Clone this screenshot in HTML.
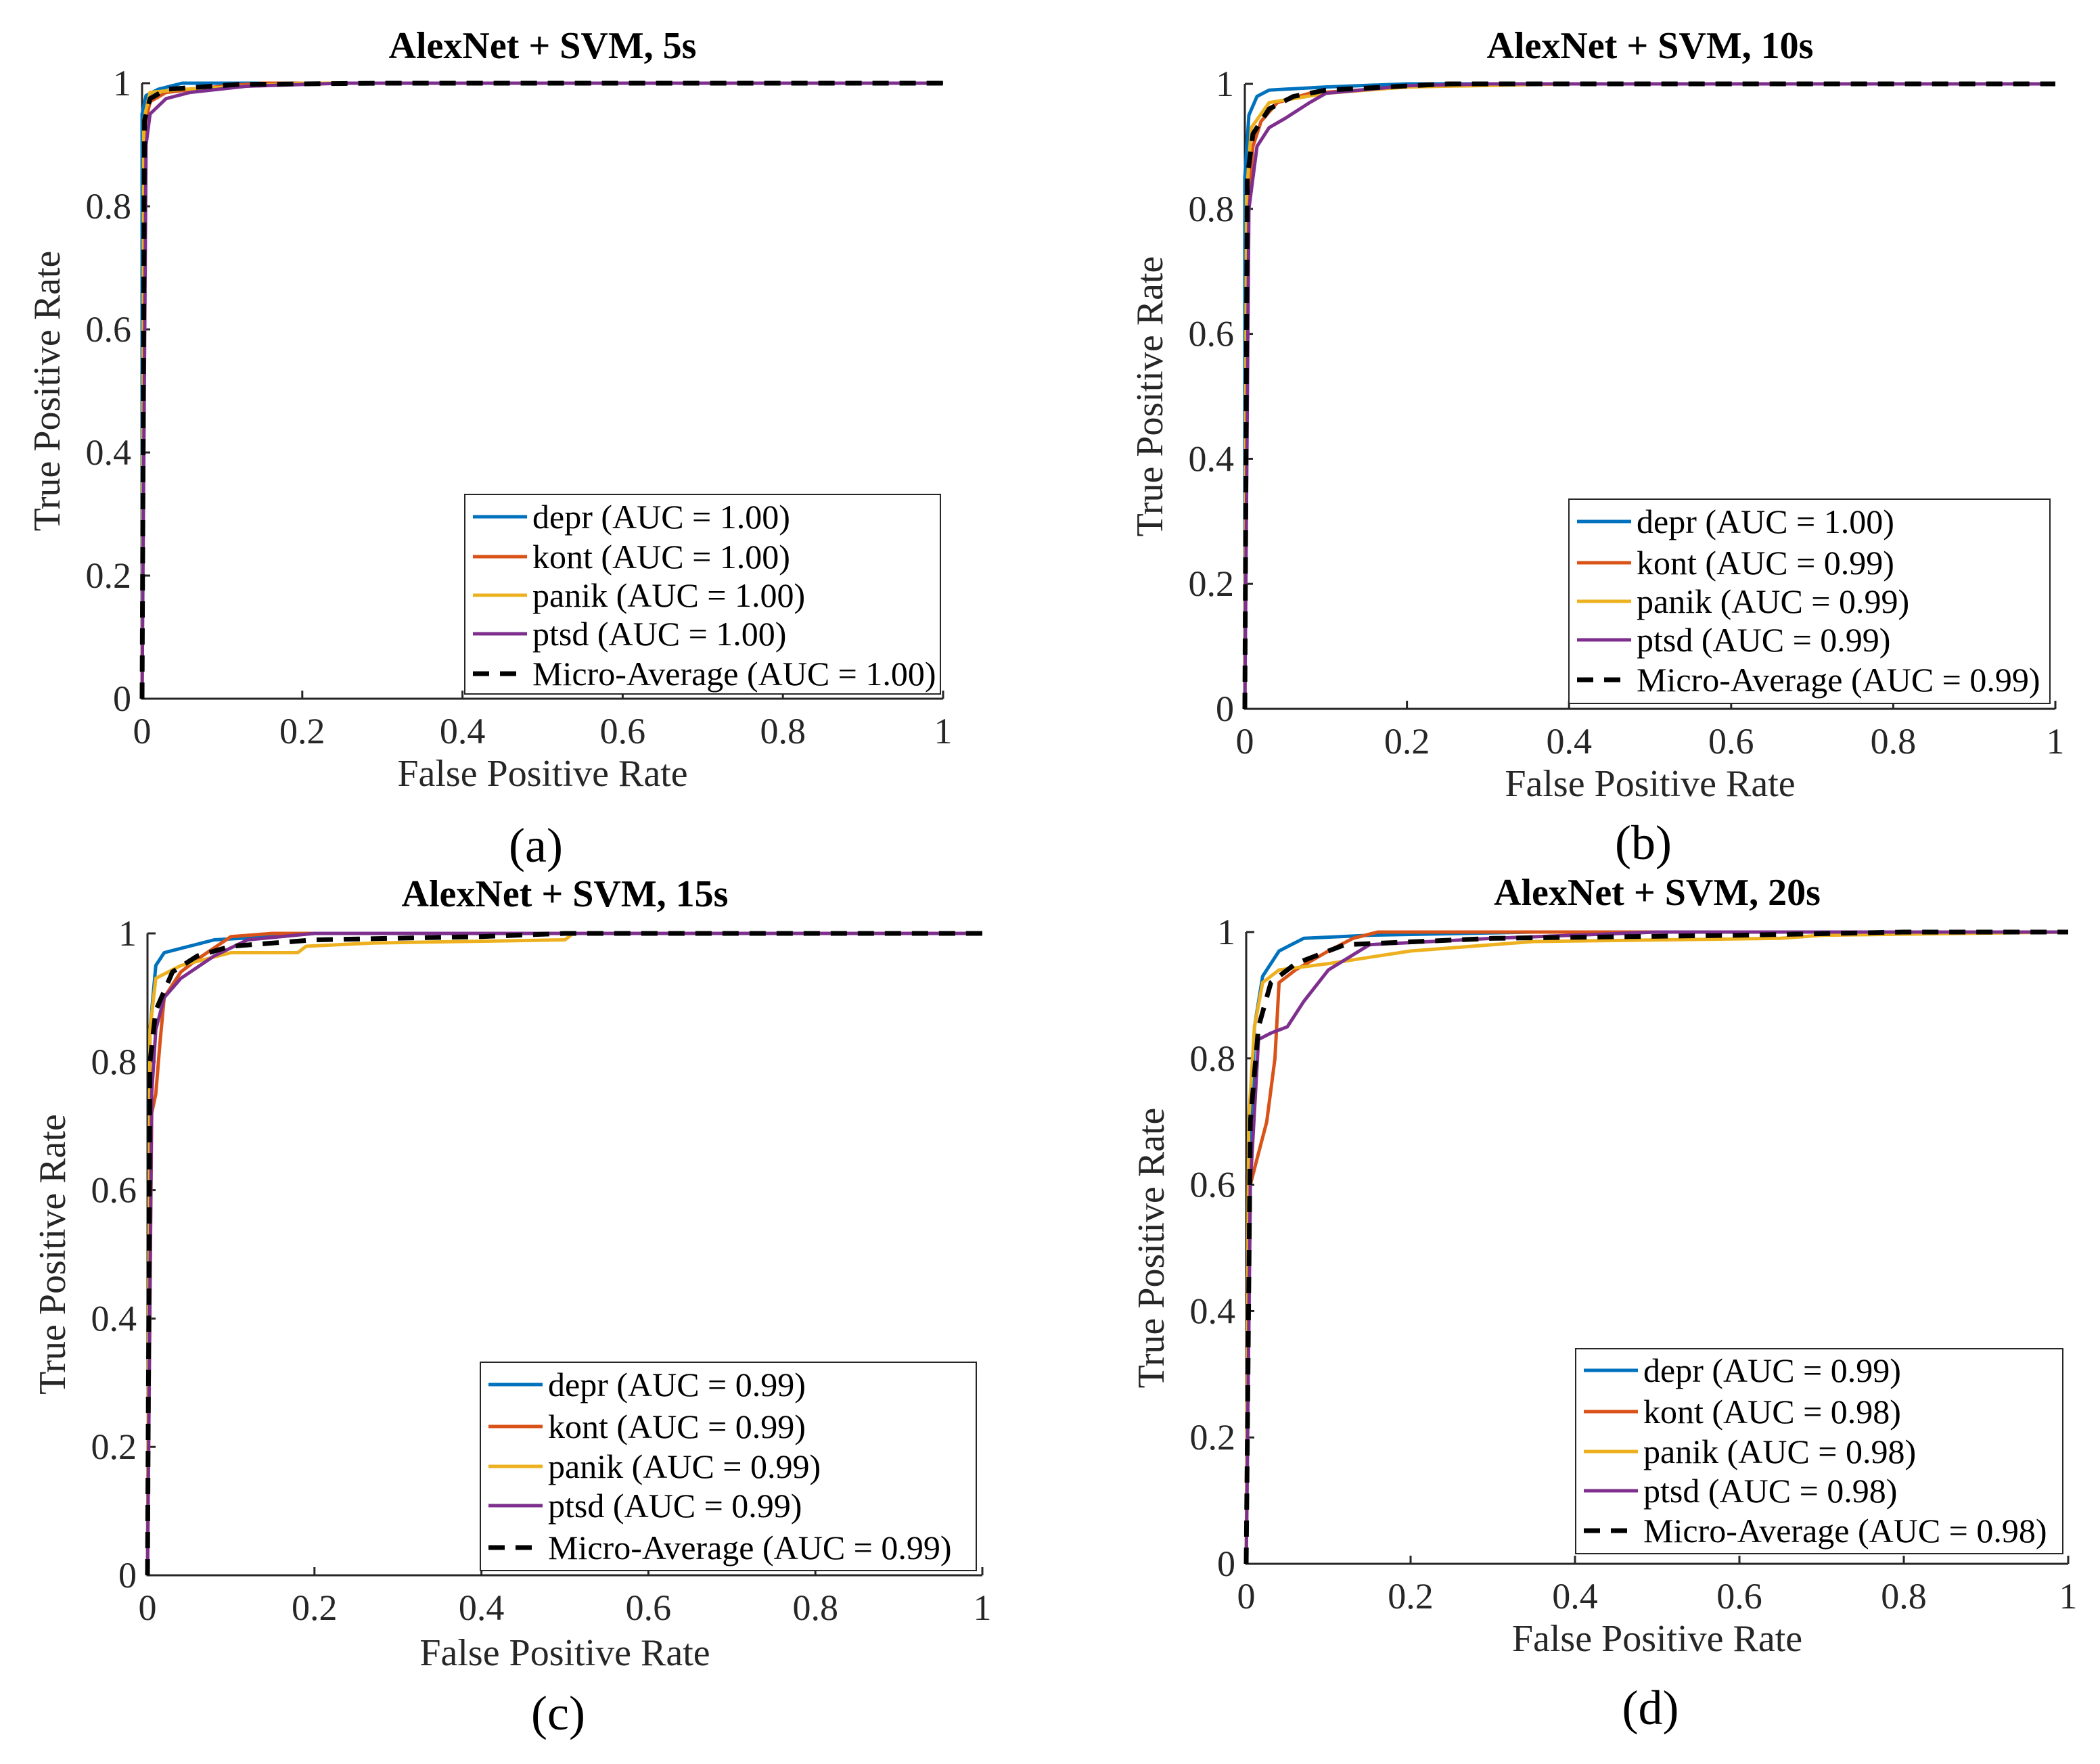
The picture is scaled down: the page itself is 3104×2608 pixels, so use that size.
<!DOCTYPE html>
<html><head><meta charset="utf-8">
<style>
html,body{margin:0;padding:0;background:#fff;}
svg{display:block;}
text{font-family:"Liberation Serif","Times New Roman",serif;}
</style></head>
<body>
<svg id="fig" width="3104" height="2608" viewBox="0 0 3104 2608" xmlns="http://www.w3.org/2000/svg"></svg>
<script>
const seriesNames = ["depr","kont","panik","ptsd","Micro-Average"];
const seriesColors = ["#0072BD","#D95319","#EDB120","#7E2F8E","#000000"];
const xTickLabels = ["0","0.2","0.4","0.6","0.8","1"];
const yTickLabels = ["0","0.2","0.4","0.6","0.8","1"];
const tickValues = [0,0.2,0.4,0.6,0.8,1];

const titlesArr = ["AlexNet + SVM, 5s","AlexNet + SVM, 10s","AlexNet + SVM, 15s","AlexNet + SVM, 20s"];
const panelLetters = ["(a)","(b)","(c)","(d)"];
const aucA = ["1.00","1.00","1.00","1.00","1.00"];
const aucB = ["1.00","0.99","0.99","0.99","0.99"];
const aucC = ["0.99","0.99","0.99","0.99","0.99"];
const aucD = ["0.99","0.98","0.98","0.98","0.98"];

const rocA = [
 [[0,0],[0,0.95],[0.005,0.98],[0.02,0.99],[0.05,1],[1,1]],
 [[0,0],[0.003,0.93],[0.01,0.97],[0.03,0.985],[0.1,0.995],[0.15,1],[1,1]],
 [[0,0],[0.002,0.94],[0.01,0.985],[0.05,0.99],[0.2,1],[1,1]],
 [[0,0],[0.005,0.9],[0.01,0.95],[0.03,0.975],[0.06,0.985],[0.13,0.995],[0.25,1],[1,1]],
 [[0,0],[0.003,0.94],[0.01,0.975],[0.03,0.99],[0.12,0.998],[0.3,1],[1,1]]
];
const rocB = [
 [[0,0],[0,0.85],[0.005,0.95],[0.015,0.98],[0.03,0.99],[0.1,0.995],[0.2,1],[1,1]],
 [[0,0],[0.003,0.8],[0.01,0.9],[0.02,0.94],[0.04,0.97],[0.08,0.985],[0.2,0.995],[0.3,1],[1,1]],
 [[0,0],[0.002,0.82],[0.008,0.93],[0.03,0.97],[0.1,0.985],[0.2,0.995],[0.4,1],[1,1]],
 [[0,0],[0.005,0.8],[0.015,0.9],[0.03,0.93],[0.05,0.945],[0.08,0.97],[0.1,0.985],[0.2,0.997],[0.3,1],[1,1]],
 [[0,0],[0.003,0.85],[0.01,0.92],[0.03,0.96],[0.06,0.98],[0.1,0.99],[0.25,1],[1,1]]
];
const rocC = [
 [[0,0],[0.003,0.85],[0.01,0.95],[0.02,0.97],[0.05,0.98],[0.08,0.99],[0.15,0.995],[0.2,1],[1,1]],
 [[0,0],[0.005,0.72],[0.01,0.75],[0.015,0.83],[0.02,0.9],[0.04,0.94],[0.06,0.96],[0.1,0.995],[0.15,1],[1,1]],
 [[0,0],[0.003,0.85],[0.01,0.93],[0.04,0.95],[0.1,0.97],[0.18,0.97],[0.19,0.98],[0.27,0.985],[0.5,0.99],[0.51,1],[1,1]],
 [[0,0],[0.005,0.75],[0.01,0.85],[0.02,0.9],[0.04,0.93],[0.08,0.965],[0.12,0.99],[0.2,1],[1,1]],
 [[0,0],[0.003,0.8],[0.01,0.88],[0.03,0.94],[0.06,0.965],[0.1,0.98],[0.2,0.99],[0.4,0.995],[0.5,1],[1,1]]
];
const rocD = [
 [[0,0],[0.005,0.6],[0.01,0.85],[0.02,0.93],[0.04,0.97],[0.07,0.99],[0.15,0.995],[0.35,1],[1,1]],
 [[0,0],[0.005,0.6],[0.015,0.65],[0.025,0.7],[0.035,0.8],[0.04,0.92],[0.06,0.94],[0.1,0.97],[0.13,0.99],[0.16,1],[1,1]],
 [[0,0],[0.003,0.7],[0.01,0.85],[0.02,0.92],[0.04,0.94],[0.1,0.95],[0.2,0.97],[0.35,0.985],[0.65,0.99],[0.7,0.995],[1,1]],
 [[0,0],[0.005,0.6],[0.015,0.83],[0.03,0.84],[0.05,0.85],[0.07,0.89],[0.1,0.94],[0.15,0.98],[0.3,0.99],[0.5,1],[1,1]],
 [[0,0],[0.005,0.7],[0.015,0.85],[0.03,0.92],[0.06,0.95],[0.12,0.98],[0.3,0.99],[0.6,0.995],[0.8,1],[1,1]]
];

const NS = "http://www.w3.org/2000/svg";
const FONT = "Liberation Serif, Times New Roman, serif";
const svg = document.getElementById("fig");
function mk(tag, attrs, parent){
  const e = document.createElementNS(NS, tag);
  for (const k in attrs) e.setAttribute(k, attrs[k]);
  if (tag === "text") e.setAttribute("font-family", FONT);
  (parent||svg).appendChild(e);
  return e;
}
const layouts = [
 {l:210,r:1394,t:123,b:1033,ty:86,lg:[687,731,1390,1026],rows:[764,823,880,937,996],xl:1162,let:1274},
 {l:1840,r:3038,t:124,b:1048,ty:86,lg:[2319,738,3030,1040],rows:[771,832,889,946,1005],xl:1177,let:1270},
 {l:218,r:1452,t:1380,b:2329,ty:1340,lg:[710,2014,1443,2322],rows:[2047,2109,2168,2226,2288],xl:2462,let:2557},
 {l:1842,r:3057,t:1378,b:2312,ty:1338,lg:[2329,1994,3049,2297],rows:[2026,2087,2146,2204,2263],xl:2441,let:2549}
];
const rocs = [rocA,rocB,rocC,rocD];
const aucs = [aucA,aucB,aucC,aucD];

layouts.forEach((L,pi)=>{
  const g = mk("g",{});
  
  
  const xs = v => L.l + v*(L.r-L.l);
  const ys = v => L.b - v*(L.b-L.t);
  const cx = (L.l+L.r)/2;
  const t = mk("text",{x:cx,y:L.ty,"text-anchor":"middle","font-size":56,"font-weight":"bold",fill:"#000"},g);
  t.textContent = titlesArr[pi];
  
  
  const ax = mk("path",{d:`M${L.l},${L.t} L${L.l},${L.b} L${L.r},${L.b}`,fill:"none",stroke:"#262626","stroke-width":3},g);
  
  
  tickValues.forEach((v,i)=>{
    mk("line",{x1:xs(v),y1:L.b,x2:xs(v),y2:L.b-12,stroke:"#262626","stroke-width":3},g);
    mk("line",{x1:L.l,y1:ys(v),x2:L.l+12,y2:ys(v),stroke:"#262626","stroke-width":3},g);
    const xt = mk("text",{x:xs(v),y:L.b+66,"text-anchor":"middle","font-size":54,fill:"#262626"},g);
    xt.textContent = xTickLabels[i];
    
    
    const yt = mk("text",{x:L.l-16,y:ys(v)+18,"text-anchor":"end","font-size":54,fill:"#262626"},g);
    yt.textContent = yTickLabels[i];
    
    
  });
  const xl = mk("text",{x:cx,y:L.xl,"text-anchor":"middle","font-size":56,fill:"#262626"},g);
  xl.textContent = "False Positive Rate";
  
  
  const ycx = L.l-122, ycy = (L.t+L.b)/2;
  const yl = mk("text",{x:ycx,y:ycy,"text-anchor":"middle","font-size":56,fill:"#262626",transform:`rotate(-90 ${ycx} ${ycy})`},g);
  yl.textContent = "True Positive Rate";
  
  
  const pl = mk("text",{x:cx-10,y:L.let,"text-anchor":"middle","font-size":72,fill:"#000"},g);
  pl.textContent = panelLetters[pi];
  
  
  rocs[pi].forEach((pts,si)=>{
    const d = pts.map((p,k)=>(k?"L":"M")+xs(p[0]).toFixed(1)+","+ys(p[1]).toFixed(1)).join(" ");
    const attrs = {d:d,fill:"none",stroke:seriesColors[si],"stroke-width":si==4?7:5,"stroke-linejoin":"round"};
    if (si==4) attrs["stroke-dasharray"]="24 16";
    const c = mk("path",attrs,g);
    
    
  });
  const lg = L.lg;
  const box = mk("rect",{x:lg[0],y:lg[1],width:lg[2]-lg[0],height:lg[3]-lg[1],fill:"#fff",stroke:"#262626","stroke-width":2},g);
  
  
  L.rows.forEach((ry,si)=>{
    const la = {x1:lg[0]+12,y1:ry,x2:lg[0]+92,y2:ry,stroke:seriesColors[si],"stroke-width":si==4?7:5};
    if (si==4) la["stroke-dasharray"]="24 16";
    const ln = mk("line",la,g);
    
    
    const tx = mk("text",{x:lg[0]+100,y:ry+17,"font-size":50,fill:"#000"},g);
    tx.textContent = seriesNames[si]+" (AUC = "+aucs[pi][si]+")";
    
    
  });
});
</script>
</body></html>
